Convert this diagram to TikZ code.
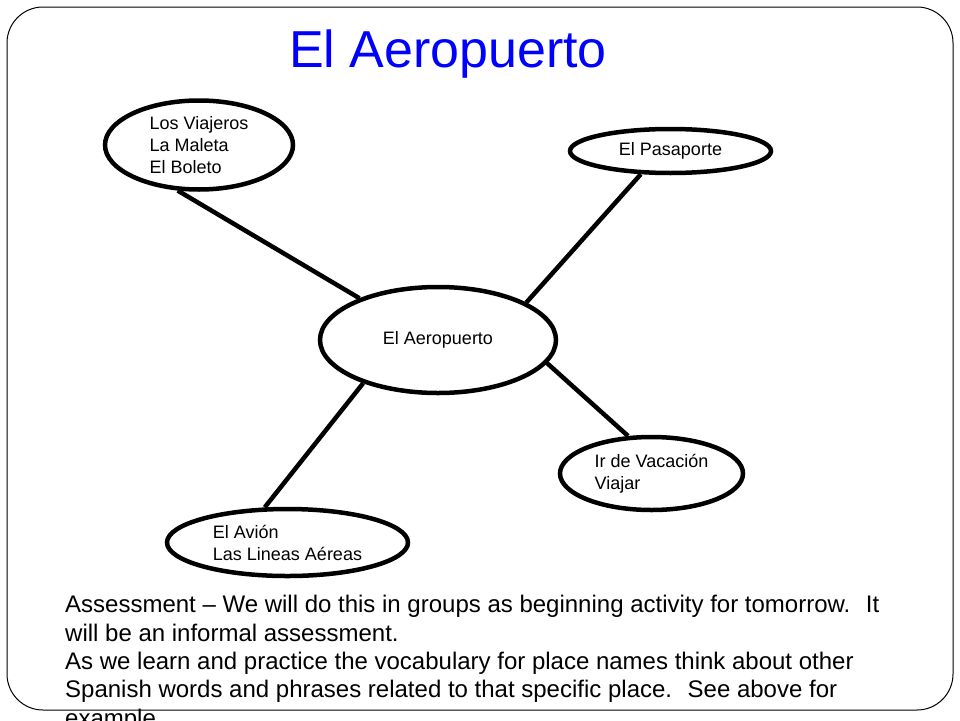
\documentclass[tikz,border=0pt]{standalone}
\usepackage{fontspec}
\setmainfont{Liberation Sans}
\usepackage{xcolor}
\usepackage{tikz}
\usetikzlibrary{shapes.geometric}

\begin{document}
\begin{tikzpicture}[x=1pt, y=-1pt,
  bubble/.style={ellipse, draw, line width=4.5pt, inner sep=0pt, align=left, font=\fontsize{18}{22}\selectfont},
  spoke/.style={line width=4.5pt}]
\useasboundingbox (0,0) rectangle (960,720);
\clip (0,0) rectangle (960,720);
\draw[line width=1pt, rounded corners=36pt] (7,7) rectangle (953,710);
\node[anchor=base, text=blue, font=\fontsize{52}{60}\selectfont] (title) at (448,67) {El Aeropuerto};

\node[bubble, minimum width=236pt, minimum height=106pt] (hub) at (438,340) {El Aeropuerto};
\node[bubble, minimum width=188pt, minimum height=89pt] (viajeros) at (199,145) {Los Viajeros\\La Maleta\\El Boleto};
\node[bubble, minimum width=201pt, minimum height=44pt] (pasaporte) at (670.5,151) {El Pasaporte};
\node[bubble, minimum width=183pt, minimum height=73pt] (vacacion) at (651.5,473.5) {Ir de Vacación\\Viajar};
\node[bubble, minimum width=241pt, minimum height=67pt] (avion) at (287.5,542.5) {El Avión\\Las Lineas Aéreas};

\draw[spoke] (viajeros.-115) -- (hub.152);
\draw[spoke] (pasaporte.-142) -- (hub.23);
\draw[spoke] (vacacion.122) -- (hub.-12);
\draw[spoke] (avion.123) -- (hub.-150);

\node[anchor=base west, inner sep=0pt, align=left, font=\fontsize{24}{28.3}\selectfont] (note) at (65,726)
  {Assessment -- We will do this in groups as beginning activity for tomorrow.~ It\\
   will be an informal assessment.\\
   As we learn and practice the vocabulary for place names think about other\\
   Spanish words and phrases related to that specific place.~ See above for\\
   example.};
\end{tikzpicture}
\end{document}
